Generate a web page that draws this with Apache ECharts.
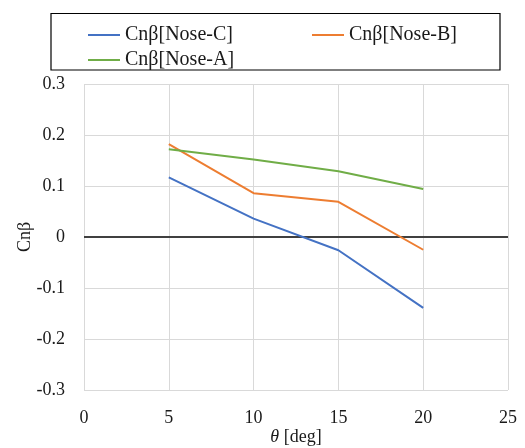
<!DOCTYPE html>
<html><head><meta charset="utf-8">
<script src="https://cdn.jsdelivr.net/npm/echarts@6/dist/echarts.min.js"></script>
<style>html,body{margin:0;padding:0;background:#fff}#c{width:525px;height:448px}</style>
</head><body><div id="c"></div>
<script>
const theta = [5, 10, 15, 20];
const noseC = [0.117, 0.036, -0.026, -0.139];
const noseB = [0.182, 0.086, 0.069, -0.025];
const noseA = [0.172, 0.152, 0.129, 0.094];
const seriesNames = ['Cnβ[Nose-C]', 'Cnβ[Nose-B]', 'Cnβ[Nose-A]'];
const colors = ['#4472C4', '#ED7D31', '#70AD47'];
const FONT = '"Liberation Serif","Times New Roman",serif';
const TXT = '#1a1a1a';

const chart = echarts.init(document.getElementById('c'), null, {renderer: 'canvas'});
const mk = (name, vals, color, extra) => Object.assign({
  name, type: 'line', data: theta.map((t, i) => [t, vals[i]]),
  symbol: 'none', lineStyle: {color, width: 2}, itemStyle: {color}, z: 3
}, extra || {});

chart.setOption({
  animation: false,
  backgroundColor: '#fff',
  textStyle: {fontFamily: FONT, color: TXT},
  grid: {left: 84, right: 17, top: 84, bottom: 58, containLabel: false, outerBoundsMode: 'none'},
  legend: {
    data: seriesNames.map((n, i) => ({name: n, icon: 'rect', itemStyle: {color: colors[i]}})),
    left: 88, top: 25, width: 470, padding: 0,
    itemWidth: 32, itemHeight: 2, itemGap: 5, itemTextGap: 0,
    textStyle: {fontFamily: FONT, fontSize: 20, color: TXT, width: 182, lineHeight: 20}
  },
  graphic: [{
    type: 'rect', shape: {x: 51, y: 13.5, width: 449, height: 56.5},
    style: {fill: null, stroke: '#000', lineWidth: 1.2}, silent: true
  }],
  xAxis: {
    type: 'value', min: 0, max: 25, interval: 5,
    axisLine: {show: false}, axisTick: {show: false},
    splitLine: {show: true, lineStyle: {color: '#d9d9d9', width: 1}},
    axisLabel: {fontFamily: FONT, fontSize: 18, color: TXT, margin: 19},
    name: '{i|θ} [deg]', nameLocation: 'middle', nameGap: 38, nameMoveOverlap: false,
    nameTextStyle: {fontFamily: FONT, fontSize: 18, color: TXT,
      rich: {i: {fontStyle: 'italic', fontFamily: FONT, fontSize: 18, color: TXT}}}
  },
  yAxis: {
    type: 'value', min: -0.3, max: 0.3, interval: 0.1,
    axisLine: {show: false}, axisTick: {show: false},
    splitLine: {show: true, lineStyle: {color: '#d9d9d9', width: 1}},
    axisLabel: {fontFamily: FONT, fontSize: 18, color: TXT, margin: 19,
      formatter: v => { const r = Math.round(v * 10) / 10; return r === 0 ? '0' : String(r); }},
    name: 'Cnβ', nameLocation: 'middle', nameGap: 50, nameRotate: 90, nameMoveOverlap: false,
    nameTextStyle: {fontFamily: FONT, fontSize: 18, color: TXT}
  },
  series: [
    mk(seriesNames[0], noseC, colors[0], {
      markLine: {silent: true, symbol: 'none', label: {show: false},
        lineStyle: {color: '#404040', width: 2, type: 'solid'}, data: [{yAxis: 0}], z: 2}
    }),
    mk(seriesNames[1], noseB, colors[1]),
    mk(seriesNames[2], noseA, colors[2])
  ]
});
</script></body></html>
